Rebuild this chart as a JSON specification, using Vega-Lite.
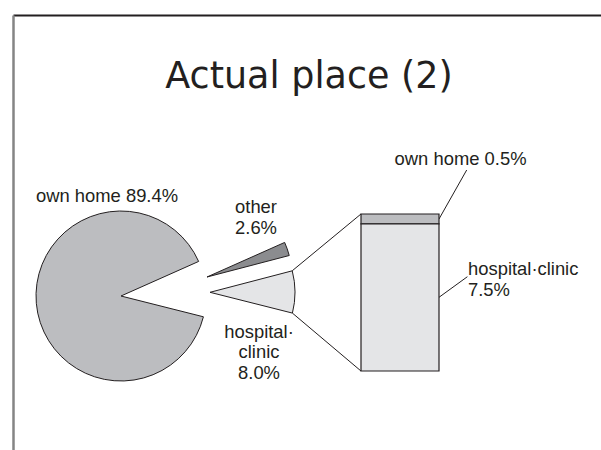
{
  "$schema": "https://vega.github.io/schema/vega-lite/v6.json",
  "width": 588,
  "height": 435,
  "autosize": "none",
  "padding": {"left": 13, "top": 15, "right": 0, "bottom": 0},
  "background": "white",
  "title": {
    "text": "Actual place (2)",
    "font": "DejaVu Sans",
    "fontSize": 36.5,
    "fontWeight": "normal",
    "color": "#231f20",
    "anchor": "middle",
    "frame": "group",
    "baseline": "alphabetic",
    "offset": 0,
    "dy": 109,
    "dx": 2
  },
  "config": {
    "view": {"stroke": null},
    "axis": {"labels": false, "ticks": false, "grid": false, "domain": true},
    "axisTop": {"domainColor": "#231f20", "domainWidth": 2},
    "axisLeft": {"domainColor": "#858585", "domainWidth": 2.5},
    "text": {"font": "Liberation Sans", "fontSize": 18.4, "color": "#231f20"}
  },
  "datasets": {
    "pie": [
      {"place": "own home", "pct": 89.4},
      {"place": "other", "pct": 2.6},
      {"place": "hospital·clinic", "pct": 8.0}
    ],
    "bar": [
      {"place": "own home", "pct": 0.5},
      {"place": "hospital·clinic", "pct": 7.5}
    ]
  },
  "resolve": {"scale": {"y": "independent"}},
  "layer": [
    {
      "data": {"values": [{}]},
      "layer": [
        {
          "mark": {"type": "rule", "stroke": "#231f20", "strokeWidth": 1},
          "encoding": {
            "x": {"datum": 279.2, "type": "quantitative", "scale": {"domain": [0, 588], "nice": false, "zero": false}, "axis": {"orient": "top", "title": null}},
            "y": {"datum": 255.8, "type": "quantitative", "scale": {"domain": [0, 435], "nice": false, "zero": false, "reverse": true}, "axis": {"orient": "left", "title": null}},
            "x2": {"datum": 348},
            "y2": {"datum": 199}
          }
        },
        {
          "mark": {"type": "rule", "stroke": "#231f20", "strokeWidth": 1},
          "encoding": {
            "x": {"datum": 279.4, "type": "quantitative", "scale": {"domain": [0, 588], "nice": false, "zero": false}},
            "y": {"datum": 298.1, "type": "quantitative", "scale": {"domain": [0, 435], "nice": false, "zero": false, "reverse": true}},
            "x2": {"datum": 348},
            "y2": {"datum": 356}
          }
        },
        {
          "mark": {"type": "rule", "stroke": "#231f20", "strokeWidth": 1},
          "encoding": {
            "x": {"datum": 426, "type": "quantitative", "scale": {"domain": [0, 588], "nice": false, "zero": false}},
            "y": {"datum": 204, "type": "quantitative", "scale": {"domain": [0, 435], "nice": false, "zero": false, "reverse": true}},
            "x2": {"datum": 453.7},
            "y2": {"datum": 155}
          }
        },
        {
          "mark": {"type": "rule", "stroke": "#231f20", "strokeWidth": 1},
          "encoding": {
            "x": {"datum": 426, "type": "quantitative", "scale": {"domain": [0, 588], "nice": false, "zero": false}},
            "y": {"datum": 282.3, "type": "quantitative", "scale": {"domain": [0, 435], "nice": false, "zero": false, "reverse": true}},
            "x2": {"datum": 454.4},
            "y2": {"datum": 261.7}
          }
        },
        {
          "data": {"name": "pie"},
          "mark": {"type": "arc", "outerRadius": 85, "stroke": "#231f20", "strokeWidth": 1},
          "encoding": {
            "theta": {"field": "pct", "type": "quantitative", "stack": true, "scale": {"range": [1.1519, 7.4351]}},
            "order": {"field": "pct", "type": "quantitative", "sort": "ascending"},
            "color": {"field": "place", "type": "nominal", "legend": null, "scale": {"domain": ["own home", "other", "hospital·clinic"], "range": ["#bcbdc0", "#8b8c8f", "#e4e5e7"]}},
            "opacity": {"condition": {"test": "datum.place === 'own home'", "value": 1}, "value": 0},
            "x": {"datum": 108, "type": "quantitative", "scale": {"domain": [0, 588], "nice": false, "zero": false}},
            "y": {"datum": 281, "type": "quantitative", "scale": {"domain": [0, 435], "nice": false, "zero": false, "reverse": true}}
          }
        },
        {
          "data": {"name": "pie"},
          "mark": {"type": "arc", "outerRadius": 85, "stroke": "#231f20", "strokeWidth": 1},
          "encoding": {
            "theta": {"field": "pct", "type": "quantitative", "stack": true, "scale": {"range": [1.1519, 7.4351]}},
            "order": {"field": "pct", "type": "quantitative", "sort": "ascending"},
            "color": {"field": "place", "type": "nominal", "legend": null},
            "opacity": {"condition": {"test": "datum.place === 'other'", "value": 1}, "value": 0},
            "x": {"datum": 194, "type": "quantitative", "scale": {"domain": [0, 588], "nice": false, "zero": false}},
            "y": {"datum": 262, "type": "quantitative", "scale": {"domain": [0, 435], "nice": false, "zero": false, "reverse": true}}
          }
        },
        {
          "data": {"name": "pie"},
          "mark": {"type": "arc", "outerRadius": 85, "stroke": "#231f20", "strokeWidth": 1},
          "encoding": {
            "theta": {"field": "pct", "type": "quantitative", "stack": true, "scale": {"range": [1.1519, 7.4351]}},
            "order": {"field": "pct", "type": "quantitative", "sort": "ascending"},
            "color": {"field": "place", "type": "nominal", "legend": null},
            "opacity": {"condition": {"test": "datum.place === 'hospital·clinic'", "value": 1}, "value": 0},
            "x": {"datum": 197, "type": "quantitative", "scale": {"domain": [0, 588], "nice": false, "zero": false}},
            "y": {"datum": 277.3, "type": "quantitative", "scale": {"domain": [0, 435], "nice": false, "zero": false, "reverse": true}}
          }
        },
        {
          "mark": {"type": "text", "text": "own home 89.4%", "align": "center", "baseline": "alphabetic"},
          "encoding": {
            "x": {"datum": 94, "type": "quantitative", "scale": {"domain": [0, 588], "nice": false, "zero": false}},
            "y": {"datum": 187, "type": "quantitative", "scale": {"domain": [0, 435], "nice": false, "zero": false, "reverse": true}}
          }
        },
        {
          "mark": {"type": "text", "text": ["other", "2.6%"], "align": "center", "baseline": "alphabetic", "lineHeight": 21},
          "encoding": {
            "x": {"datum": 243, "type": "quantitative", "scale": {"domain": [0, 588], "nice": false, "zero": false}},
            "y": {"datum": 198.3, "type": "quantitative", "scale": {"domain": [0, 435], "nice": false, "zero": false, "reverse": true}}
          }
        },
        {
          "mark": {"type": "text", "text": ["hospital·", "clinic", "8.0%"], "align": "center", "baseline": "alphabetic", "lineHeight": 20.5},
          "encoding": {
            "x": {"datum": 246, "type": "quantitative", "scale": {"domain": [0, 588], "nice": false, "zero": false}},
            "y": {"datum": 322.5, "type": "quantitative", "scale": {"domain": [0, 435], "nice": false, "zero": false, "reverse": true}}
          }
        },
        {
          "mark": {"type": "text", "text": "own home 0.5%", "align": "left", "baseline": "alphabetic"},
          "encoding": {
            "x": {"datum": 381.6, "type": "quantitative", "scale": {"domain": [0, 588], "nice": false, "zero": false}},
            "y": {"datum": 150, "type": "quantitative", "scale": {"domain": [0, 435], "nice": false, "zero": false, "reverse": true}}
          }
        },
        {
          "mark": {"type": "text", "text": ["hospital·clinic", "7.5%"], "align": "left", "baseline": "alphabetic", "lineHeight": 21},
          "encoding": {
            "x": {"datum": 455, "type": "quantitative", "scale": {"domain": [0, 588], "nice": false, "zero": false}},
            "y": {"datum": 260, "type": "quantitative", "scale": {"domain": [0, 435], "nice": false, "zero": false, "reverse": true}}
          }
        }
      ]
    },
    {
      "data": {"name": "bar"},
      "transform": [
        {"stack": "pct", "groupby": [], "sort": [{"field": "pct", "order": "descending"}], "as": ["lo", "hi"]}
      ],
      "mark": {"type": "rect", "stroke": "#231f20", "strokeWidth": 1.2},
      "encoding": {
        "x": {"datum": 348, "type": "quantitative", "scale": {"domain": [0, 588], "nice": false, "zero": false}},
        "x2": {"datum": 426},
        "y": {"field": "lo", "type": "quantitative", "scale": {"domain": [0, 8], "range": [356, 199], "nice": false, "zero": false}, "axis": null},
        "y2": {"field": "hi"},
        "color": {"field": "place", "type": "nominal", "legend": null}
      }
    }
  ]
}
